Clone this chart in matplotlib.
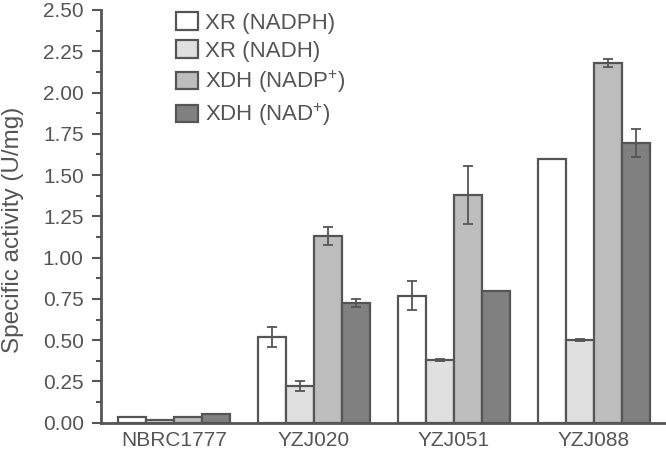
import numpy as np
import matplotlib
matplotlib.use('Agg')
import matplotlib.pyplot as plt
from matplotlib.ticker import MultipleLocator

plt.rcParams['font.family'] = ['Liberation Sans', 'DejaVu Sans']
plt.rcParams['mathtext.fontset'] = 'custom'
plt.rcParams['mathtext.rm'] = 'Liberation Sans'
plt.rcParams['mathtext.default'] = 'regular'

# data
strains = ['NBRC1777', 'YZJ020', 'YZJ051', 'YZJ088']
series = ['XR (NADPH)', 'XR (NADH)', 'XDH (NADP$^{+}$)', 'XDH (NAD$^{+}$)']
xr_nadph = [0.035, 0.52, 0.77, 1.60]
xr_nadh = [0.015, 0.22, 0.38, 0.50]
xdh_nadp = [0.035, 1.13, 1.38, 2.18]
xdh_nad = [0.05, 0.725, 0.80, 1.695]
err_xr_nadph = [0, 0.06, 0.09, 0]
err_xr_nadh = [0, 0.03, 0.005, 0.008]
err_xdh_nadp = [0, 0.055, 0.175, 0.025]
err_xdh_nad = [0, 0.025, 0, 0.085]

values = [xr_nadph, xr_nadh, xdh_nadp, xdh_nad]
errors = [err_xr_nadph, err_xr_nadh, err_xdh_nadp, err_xdh_nad]
colors = ['#ffffff', '#e0e0e0', '#bdbdbd', '#808080']
edge = '#555555'

fig = plt.figure(figsize=(6.66, 4.5), dpi=100)
ax = fig.add_axes([101 / 666, 1 - 422.7 / 450, 564 / 666, 412.7 / 450])

x = np.arange(len(strains))
w = 0.2
for i, (vals, errs, c, lab) in enumerate(zip(values, errors, colors, series)):
    pos = x + (i - 1.5) * w
    ax.bar(pos, vals, w, color=c, edgecolor=edge, linewidth=1.6, label=lab, zorder=2)
    mask = np.array(errs) > 0
    ax.errorbar(pos[mask], np.array(vals)[mask], yerr=np.array(errs)[mask], fmt='none',
                ecolor=edge, elinewidth=1.3, capsize=3.5, capthick=1.3, zorder=3)

ax.set_xlim(-0.52, 3.51)
ax.set_ylim(0, 2.5)
ax.yaxis.set_major_locator(MultipleLocator(0.25))
ax.yaxis.set_minor_locator(MultipleLocator(0.125))
ax.set_yticklabels([f'{v:.2f}' for v in ax.get_yticks()])
ax.set_xticks(x)
ax.set_xticklabels(strains)
ax.tick_params(axis='x', length=0, pad=6, labelsize=15, labelcolor='#555555')
ax.tick_params(axis='y', which='major', length=6.5, width=1.5, color=edge,
               labelsize=15, labelcolor='#555555', pad=6)
ax.tick_params(axis='y', which='minor', length=3.5, width=1.5, color=edge)
for s in ['top', 'right']:
    ax.spines[s].set_visible(False)
for s in ['left', 'bottom']:
    ax.spines[s].set_color(edge)
    ax.spines[s].set_linewidth(2)
ax.set_ylabel('Specific activity (U/mg)', fontsize=17.5, color='#555555')
ax.yaxis.set_label_coords(-0.1365, 0.467)

ax.legend(loc='upper left', bbox_to_anchor=(165 / 666, 1 - 1 / 450),
          bbox_transform=fig.transFigure, frameon=False, fontsize=16,
          handlelength=1.0, handleheight=0.85, handletextpad=0.3,
          labelspacing=0.3, borderpad=0, labelcolor='#555555')

fig.savefig('out.png', dpi=100)
